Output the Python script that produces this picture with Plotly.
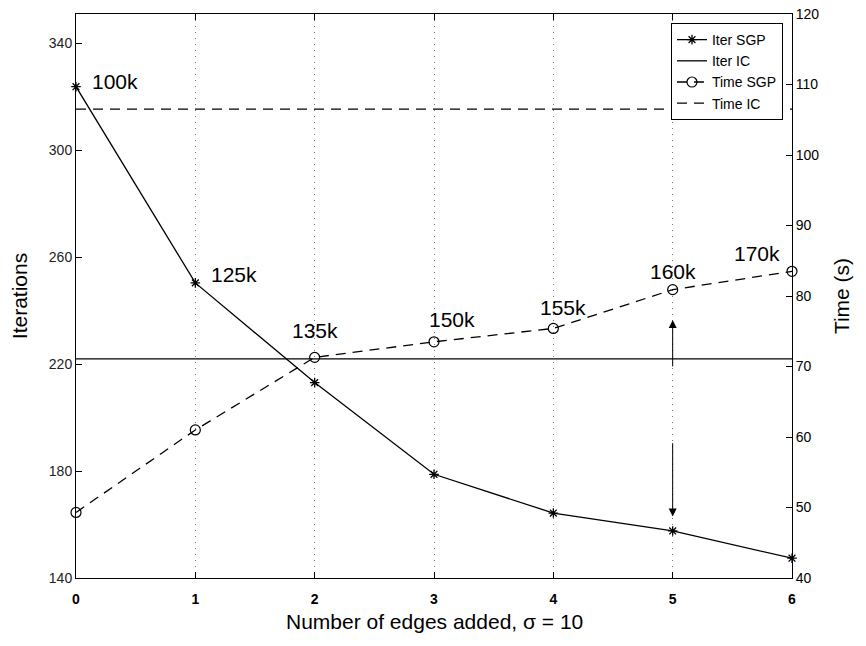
import plotly.graph_objects as go

edges = [0, 1, 2, 3, 4, 5, 6]
iter_sgp = [323.8, 250.4, 213.1, 178.8, 164.3, 157.6, 147.4]
time_sgp = [49.3, 61.0, 71.3, 73.5, 75.4, 80.9, 83.5]
iter_ic = 222.0
time_ic = 106.5
point_labels = ["100k", "125k", "135k", "150k", "155k", "160k", "170k"]
left_ticks = [140, 180, 220, 260, 300, 340]
right_ticks = [40, 50, 60, 70, 80, 90, 100, 110, 120]
left_range = [140, 351]
right_range = [40, 120]
x_title = "Number of edges added, σ = 10"

FONT = "Liberation Sans, Arial, Helvetica, sans-serif"

fig = go.Figure()
fig.add_trace(go.Scatter(
    x=edges, y=iter_sgp, name="Iter SGP", mode="lines+markers",
    line=dict(color="black", width=1.3),
    marker=dict(symbol="asterisk-open", size=8, color="black", line=dict(color="black", width=1.3)),
    yaxis="y", cliponaxis=False))
fig.add_trace(go.Scatter(
    x=[edges[0], edges[-1]], y=[iter_ic, iter_ic], name="Iter IC", mode="lines",
    line=dict(color="black", width=1.3), yaxis="y"))
fig.add_trace(go.Scatter(
    x=edges, y=time_sgp, name="Time SGP", mode="lines+markers",
    line=dict(color="black", width=1.3, dash="10px,7px"),
    marker=dict(symbol="circle-open", size=10, color="black", line=dict(color="black", width=1.2)),
    yaxis="y2", cliponaxis=False))
fig.add_trace(go.Scatter(
    x=[edges[0], edges[-1]], y=[time_ic, time_ic], name="Time IC", mode="lines",
    line=dict(color="black", width=1.3, dash="10px,7px"), yaxis="y2"))

annotations = []
# labels near points: (index, axis, xshift, yshift)
label_spec = [
    (0, "y", 39, 5),
    (1, "y", 39, 8),
    (2, "y2", 0, 27),
    (3, "y2", 18, 22),
    (4, "y2", 10, 21),
    (5, "y2", 0, 18),
    (6, "y2", -35, 18),
]
for (i, ax, xs, ys) in label_spec:
    yval = iter_sgp[i] if ax == "y" else time_sgp[i]
    annotations.append(dict(
        x=edges[i], y=yval, xref="x", yref=ax, text=point_labels[i],
        showarrow=False, xshift=xs, yshift=ys,
        font=dict(family=FONT, size=21, color="black")))

# arrows at x=5
annotations.append(dict(
    x=5, y=76.6, xref="x", yref="y2", ax=5, ay=69.8, axref="x", ayref="y2",
    showarrow=True, arrowhead=2, arrowsize=1.6, arrowwidth=1, arrowcolor="black", text=""))
annotations.append(dict(
    x=5, y=163.0, xref="x", yref="y", ax=5, ay=191.0, axref="x", ayref="y",
    showarrow=True, arrowhead=2, arrowsize=1.6, arrowwidth=1, arrowcolor="black", text=""))

# x-axis title
annotations.append(dict(
    x=0.5, y=0, xref="paper", yref="paper", yshift=-43, yanchor="middle",
    text=x_title, showarrow=False, font=dict(family=FONT, size=21, color="black")))

fig.update_layout(
    width=866, height=646,
    margin=dict(l=76, r=74, t=14, b=68),
    paper_bgcolor="white", plot_bgcolor="white",
    font=dict(family=FONT, color="black"),
    showlegend=True,
    legend=dict(
        x=0.9874, y=0.984, xanchor="right", yanchor="top",
        bgcolor="white", bordercolor="black", borderwidth=1,
        font=dict(family=FONT, size=14, color="black"),
        tracegroupgap=0, itemwidth=30),
    xaxis=dict(
        range=[0, 6], tickvals=edges, ticktext=[f"<b>{e}</b>" for e in edges],
        ticks="inside", ticklen=6, tickcolor="black", automargin=False,
        showline=True, linecolor="black", linewidth=1, mirror="ticks",
        showgrid=True, gridcolor="#777", griddash="1px,5px", gridwidth=1,
        zeroline=False, ticklabelstandoff=8,
        tickfont=dict(family=FONT, size=14, color="black")),
    yaxis=dict(
        range=left_range, tickvals=left_ticks, automargin=False,
        ticks="inside", ticklen=6, tickcolor="black",
        showline=True, linecolor="black", linewidth=1,
        showgrid=False, zeroline=False,
        tickfont=dict(family=FONT, size=14, color="#222"),
        title=dict(text="Iterations", font=dict(family=FONT, size=21))),
    yaxis2=dict(
        range=right_range, tickvals=right_ticks, overlaying="y", side="right",
        ticks="inside", ticklen=6, tickcolor="black", automargin=False,
        showline=True, linecolor="black", linewidth=1,
        showgrid=False, zeroline=False,
        tickfont=dict(family=FONT, size=14, color="black"),
        title=dict(text="Time (s)", font=dict(family=FONT, size=21))),
    yaxis3=dict(
        range=left_range, tickvals=left_ticks, overlaying="y", side="right",
        anchor="x", ticks="inside", ticklen=6, tickcolor="#666", automargin=False,
        showticklabels=False, showline=False, showgrid=False, zeroline=False),
    annotations=annotations,
)

fig.write_html("out.html")
